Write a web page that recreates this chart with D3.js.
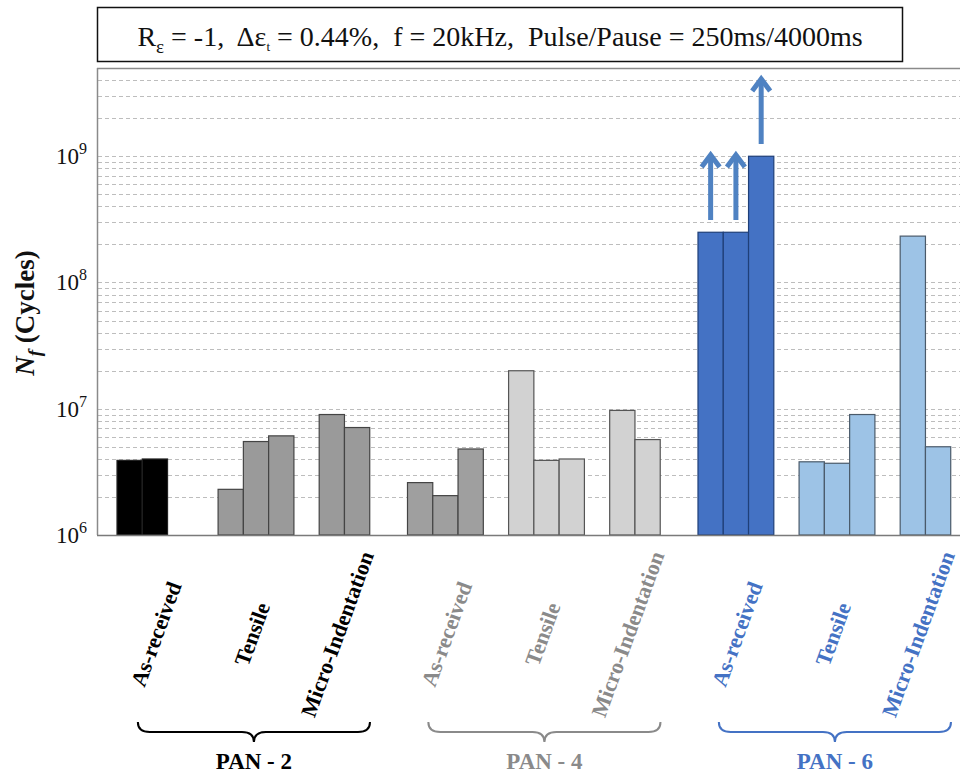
<!DOCTYPE html>
<html>
<head>
<meta charset="utf-8">
<script src="https://cdn.jsdelivr.net/npm/d3@7"></script>
<style>
  body { margin: 0; background: #fff; }
  svg { display: block; }
  svg text { font-family: "Liberation Serif", "Times New Roman", serif; white-space: pre; }
</style>
</head>
<body>
<svg id="chart" width="960" height="774"></svg>
<script>
// ---- data ----
const panGroups = ["PAN - 2", "PAN - 4", "PAN - 6"];
const categories = ["As-received", "Tensile", "Micro-Indentation"];
const specimens = [0, 1, 2];

const pan2Values = [[3.9e6, 4.0e6], [2.3e6, 5.5e6, 6.1e6], [9.0e6, 7.1e6]];
const pan4Values = [[2.6e6, 2.05e6, 4.8e6], [2.0e7, 3.9e6, 4.0e6], [9.7e6, 5.7e6]];
const pan6Values = [[2.5e8, 2.5e8, 1.0e9], [3.8e6, 3.7e6, 9.0e6], [2.33e8, 5.0e6]];
const pan6Runouts = [[true, true, true], [false, false, false], [false, false]];

const yTickValues = [1e6, 1e7, 1e8, 1e9];
const yTickExponents = ["6", "7", "8", "9"];

// ---- styles ----
const fills = {
  "PAN - 2": ["#000000", "#9a9a9a", "#9a9a9a"],
  "PAN - 4": ["#9f9f9f", "#d2d2d2", "#d2d2d2"],
  "PAN - 6": ["#4472c4", "#9dc3e6", "#9dc3e6"]
};
const strokes = {
  "PAN - 2": ["#222", "#444", "#444"],
  "PAN - 4": ["#444", "#555", "#555"],
  "PAN - 6": ["#1f3f78", "#4a5a6a", "#4a5a6a"]
};
const groupTextColors = { "PAN - 2": "#000000", "PAN - 4": "#8a8a8a", "PAN - 6": "#4472c4" };
const labelShift = [1, -4, -20];

const valuesByGroup = { "PAN - 2": pan2Values, "PAN - 4": pan4Values, "PAN - 6": pan6Values };
const bars = [];
panGroups.forEach(g => {
  valuesByGroup[g].forEach((arr, ci) => {
    arr.forEach((v, si) => {
      bars.push({
        group: g, cat: categories[ci], ci, si, value: v,
        runout: g === "PAN - 6" ? pan6Runouts[ci][si] : false
      });
    });
  });
});

const svg = d3.select("#chart");
const plotLeft = 97, plotTop = 68, plotBottom = 535, plotRight = 960;

const y = d3.scaleLog().domain([1e6, 5e9]).range([plotBottom, plotTop]);
const x0 = d3.scaleBand().domain(panGroups).range([117, 976]).paddingInner(0.043).paddingOuter(0);
const x1 = d3.scaleBand().domain(categories).range([0, x0.bandwidth()]).paddingInner(0.25).paddingOuter(0);
const x2 = d3.scaleBand().domain(specimens).range([0, x1.bandwidth()]).padding(0);

// ---- grid lines ----
const gridVals = [];
for (let e = 6; e <= 9; e++) {
  for (let m = 1; m <= 9; m++) {
    const v = m * Math.pow(10, e);
    if (v > 1e6 && v < 5e9) gridVals.push(v);
  }
}
svg.append("g").selectAll("line").data(gridVals).join("line")
  .attr("x1", plotLeft + 1).attr("x2", plotRight)
  .attr("y1", d => Math.round(y(d)) + 0.5).attr("y2", d => Math.round(y(d)) + 0.5)
  .attr("stroke", "#bdbdbd").attr("stroke-width", 1).attr("stroke-dasharray", "4,3");

// frame
svg.append("line").attr("x1", plotLeft).attr("x2", plotRight).attr("y1", plotTop + 0.5).attr("y2", plotTop + 0.5)
  .attr("stroke", "#8a8a8a").attr("stroke-width", 1.5);
svg.append("line").attr("x1", plotLeft + 0.5).attr("x2", plotLeft + 0.5).attr("y1", plotTop).attr("y2", plotBottom)
  .attr("stroke", "#8a8a8a").attr("stroke-width", 1.5);

// ---- bars ----
svg.append("g").selectAll("rect").data(bars).join("rect")
  .attr("x", d => x0(d.group) + x1(d.cat) + x2(d.si))
  .attr("width", x2.bandwidth())
  .attr("y", d => y(d.value))
  .attr("height", d => plotBottom - y(d.value))
  .attr("fill", d => fills[d.group][d.ci])
  .attr("stroke", d => strokes[d.group][d.ci])
  .attr("stroke-width", 1.2);

// bottom axis line
svg.append("line").attr("x1", plotLeft).attr("x2", plotRight).attr("y1", plotBottom + 0.5).attr("y2", plotBottom + 0.5)
  .attr("stroke", "#7a7a7a").attr("stroke-width", 1.5);

// ---- run-out arrows ----
const arrowColor = "#4f82c2";
const arrows = svg.append("g");
bars.filter(d => d.runout).forEach(d => {
  const cx = x0(d.group) + x1(d.cat) + x2(d.si) + x2.bandwidth() / 2;
  const yStart = y(d.value * 1.25);
  const yTip = y(d.value * 4.25);
  arrows.append("line").attr("x1", cx).attr("x2", cx).attr("y1", yStart).attr("y2", yTip + 3)
    .attr("stroke", arrowColor).attr("stroke-width", 5);
  arrows.append("path")
    .attr("d", `M${cx - 9},${yTip + 14} L${cx},${yTip + 2} L${cx + 9},${yTip + 14}`)
    .attr("fill", "none").attr("stroke", arrowColor).attr("stroke-width", 5)
    .attr("stroke-linejoin", "miter").attr("stroke-linecap", "butt");
});

// ---- y axis labels ----
const yl = svg.append("g").selectAll("text").data(yTickValues).join("text")
  .attr("x", 56).attr("y", d => y(d) + 8)
  .attr("font-size", 23).attr("fill", "#111");
yl.append("tspan").text("10");
yl.append("tspan").attr("font-size", 16).attr("dy", -10).text((d, i) => yTickExponents[i]);

// y title
const yt = svg.append("text")
  .attr("transform", `translate(34,313) rotate(-90)`)
  .attr("text-anchor", "middle").attr("font-size", 27).attr("font-weight", "bold").attr("fill", "#111");
yt.append("tspan").attr("font-style", "italic").text("N");
yt.append("tspan").attr("font-style", "italic").attr("font-size", 19).attr("dy", 7).text("f");
yt.append("tspan").attr("dy", -7).text(" (Cycles)");

// ---- category labels ----
const labels = [];
panGroups.forEach(g => categories.forEach((c, ci) => labels.push({ g, c, ci })));
svg.append("g").selectAll("text").data(labels).join("text")
  .attr("transform", d => {
    const cx = x0(d.g) + x1(d.c) + x1.bandwidth() / 2 + labelShift[d.ci];
    return `translate(${cx},634) rotate(-70)`;
  })
  .attr("text-anchor", "middle").attr("dy", "0.35em")
  .attr("font-size", 22).attr("font-weight", "bold")
  .attr("fill", d => groupTextColors[d.g])
  .text(d => d.c);

// ---- braces ----
function bracePath(xa, xb, yTop, depth) {
  const xm = (xa + xb) / 2;
  const yMid = yTop + depth * 0.5;
  const yEnd = yTop + depth;
  const r = 12;
  return `M${xa},${yTop} Q${xa},${yMid} ${xa + r},${yMid} L${xm - r},${yMid} Q${xm},${yMid} ${xm},${yEnd}` +
         ` Q${xm},${yMid} ${xm + r},${yMid} L${xb - r},${yMid} Q${xb},${yMid} ${xb},${yTop}`;
}
const braceG = svg.append("g");
panGroups.forEach(g => {
  const bw = x0.bandwidth();
  const xa = x0(g) + bw * 0.075, xb = x0(g) + bw * 0.91;
  braceG.append("path").attr("d", bracePath(xa, xb, 722, 20))
    .attr("fill", "none").attr("stroke", groupTextColors[g]).attr("stroke-width", 2);
  braceG.append("text").attr("x", (xa + xb) / 2).attr("y", 769)
    .attr("text-anchor", "middle").attr("font-size", 23).attr("font-weight", "bold")
    .attr("fill", groupTextColors[g]).text(g);
});

// ---- title box ----
svg.append("rect").attr("x", 97.5).attr("y", 7.5).attr("width", 805).attr("height", 54)
  .attr("fill", "#fff").attr("stroke", "#111").attr("stroke-width", 1.5);
const tt = svg.append("text").attr("x", 500).attr("y", 46).attr("text-anchor", "middle")
  .attr("font-size", 28).attr("fill", "#111");
tt.append("tspan").text("R");
tt.append("tspan").attr("font-size", 19).attr("dy", 7).text("ε");
tt.append("tspan").attr("dy", -7).text(" = -1,  Δε");
tt.append("tspan").attr("font-size", 13).attr("dy", 5).text("t");
tt.append("tspan").attr("dy", -5).text(" = 0.44%,  f = 20kHz,  Pulse/Pause = 250ms/4000ms");
</script>
</body>
</html>
